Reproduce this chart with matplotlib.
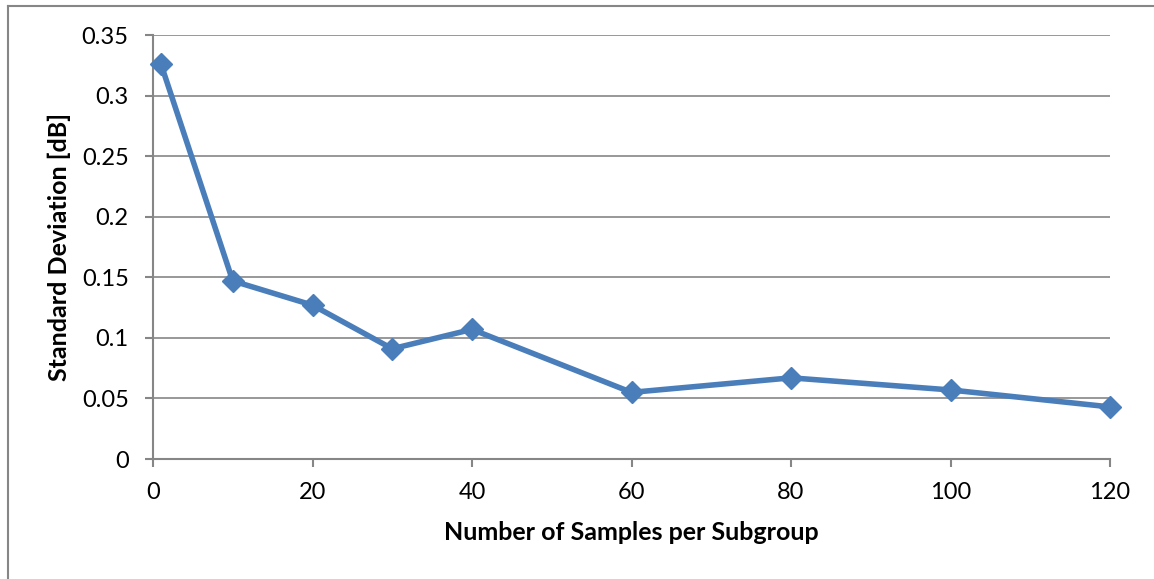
import matplotlib
matplotlib.use("Agg")
import matplotlib.pyplot as plt
from matplotlib.lines import Line2D

# Standard deviation of the measurement vs. subgroup size
samples_per_subgroup = [1, 10, 20, 30, 40, 60, 80, 100, 120]
std_dev_db = [0.326, 0.147, 0.127, 0.091, 0.107, 0.055, 0.067, 0.057, 0.043]

x_ticks = [0, 20, 40, 60, 80, 100, 120]
y_ticks = [0, 0.05, 0.1, 0.15, 0.2, 0.25, 0.3, 0.35]
y_tick_labels = ["0", "0.05", "0.1", "0.15", "0.2", "0.25", "0.3", "0.35"]

W, H = 1154, 579
DPI = 100
GRAY = "#868686"
BLUE = "#4A7EBB"

plt.rcParams["font.family"] = ["Lato", "DejaVu Sans"]

fig = plt.figure(figsize=(W / DPI, H / DPI), dpi=DPI)
fig.patch.set_facecolor("white")

left, right, top, bottom = 153, 1110, 35, 459
ax = fig.add_axes([left / W, 1 - bottom / H, (right - left) / W, (bottom - top) / H])

ax.plot(samples_per_subgroup, std_dev_db, color=BLUE, linewidth=4.0,
        marker="D", markersize=11, markerfacecolor=BLUE,
        markeredgecolor=BLUE, markeredgewidth=1, zorder=3,
        solid_joinstyle="miter", clip_on=False)

ax.set_xlim(0, 120)
ax.set_ylim(0, 0.35)
ax.set_xticks(x_ticks)
ax.set_yticks(y_ticks)
ax.set_yticklabels(y_tick_labels)

ax.grid(axis="y", color=GRAY, linewidth=1.2)
ax.set_axisbelow(True)

for side in ("top", "right"):
    ax.spines[side].set_visible(False)
for side in ("left", "bottom"):
    ax.spines[side].set_color(GRAY)
    ax.spines[side].set_linewidth(1.5)

ax.tick_params(axis="both", direction="out", color=GRAY, width=1.5,
               length=5.5, labelsize=17, labelcolor="black")
ax.tick_params(axis="y", pad=12)
ax.tick_params(axis="x", pad=11)

ax.set_xlabel("Number of Samples per Subgroup", fontsize=18,
              fontweight="bold", labelpad=13)
ax.set_ylabel("Standard Deviation [dB]", fontsize=18,
              fontweight="bold", labelpad=8)

# Outer chart border (top and left edges)
fig.add_artist(Line2D([8 / W, 1.0], [1 - 6 / H, 1 - 6 / H],
                      transform=fig.transFigure, color=GRAY, linewidth=1.5))
fig.add_artist(Line2D([8 / W, 8 / W], [0.0, 1 - 6 / H],
                      transform=fig.transFigure, color=GRAY, linewidth=1.5))

fig.savefig("out.png", dpi=DPI, facecolor="white")
